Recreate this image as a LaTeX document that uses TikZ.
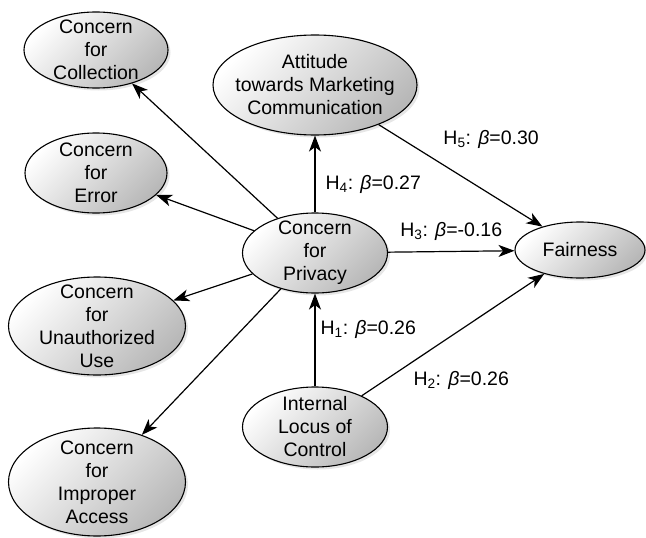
\documentclass[tikz,border=0pt]{standalone}
\usepackage{fontspec}
\setmainfont{Liberation Sans}
\usepackage{tikz}
\usetikzlibrary{arrows.meta, shapes.geometric, shadows}

\begin{document}
\begin{tikzpicture}[
      x=1pt, y=-1pt,
      construct/.style={ellipse, draw, line width=1.1pt, top color=white, bottom color=black!28, shading angle=45,
        drop shadow={opacity=0.2, shadow xshift=2.5pt, shadow yshift=-2.5pt},
        inner sep=-30pt, align=center, font=\fontsize{19.5}{23}\selectfont},
      arrow/.style={-{Stealth[length=16pt, width=12pt, inset=4.5pt]}, line width=1.2pt},
      lbl/.style={font=\fontsize{19.5}{23}\selectfont, inner sep=2pt}
    ]
      \useasboundingbox (0,0) rectangle (646,538);

      \node[construct, minimum width=144pt, minimum height=76pt] (coll) at (96,50) {Concern\\for\\Collection};
      \node[construct, minimum width=142pt, minimum height=80pt] (err) at (96,173) {Concern\\for\\Error};
      \node[construct, minimum width=204pt, minimum height=100pt] (att) at (315,85) {Attitude\\towards Marketing\\Communication};
      \node[construct, minimum width=145pt, minimum height=80pt] (priv) at (315,253) {Concern\\for\\Privacy};
      \node[construct, minimum width=130pt, minimum height=56pt] (fair) at (580,250) {Fairness};
      \node[construct, minimum width=177pt, minimum height=98pt] (unauth) at (97,326) {Concern\\for\\Unauthorized\\Use};
      \node[construct, minimum width=177pt, minimum height=108pt] (impr) at (97,482) {Concern\\for\\Improper\\Access};
      \node[construct, minimum width=145pt, minimum height=80pt] (int) at (315,427) {Internal\\Locus of\\Control};

      \draw[arrow] (priv) -- (coll);
      \draw[arrow] (priv) -- (err);
      \draw[arrow] (priv) -- (unauth);
      \draw[arrow] (priv) -- (impr);
      \draw[arrow] (priv) -- node[pos=0.36, right, lbl, xshift=8pt] {H\textsubscript{4}: \textit{β}=0.27} (att);
      \draw[arrow] (priv) -- node[above, lbl, yshift=8pt] {H\textsubscript{3}: \textit{β}=-0.16} (fair);
      \draw[arrow] (att) -- node[pos=0.38, anchor=south west, lbl, yshift=12pt] {H\textsubscript{5}: \textit{β}=0.30} (fair);
      \draw[arrow] (int) -- node[pos=0.61, right, lbl, xshift=3pt] {H\textsubscript{1}: \textit{β}=0.26} (priv);
      \draw[arrow] (int) -- node[pos=0.27, anchor=north west, lbl, yshift=-6pt] {H\textsubscript{2}: \textit{β}=0.26} (fair);
\end{tikzpicture}
\end{document}
